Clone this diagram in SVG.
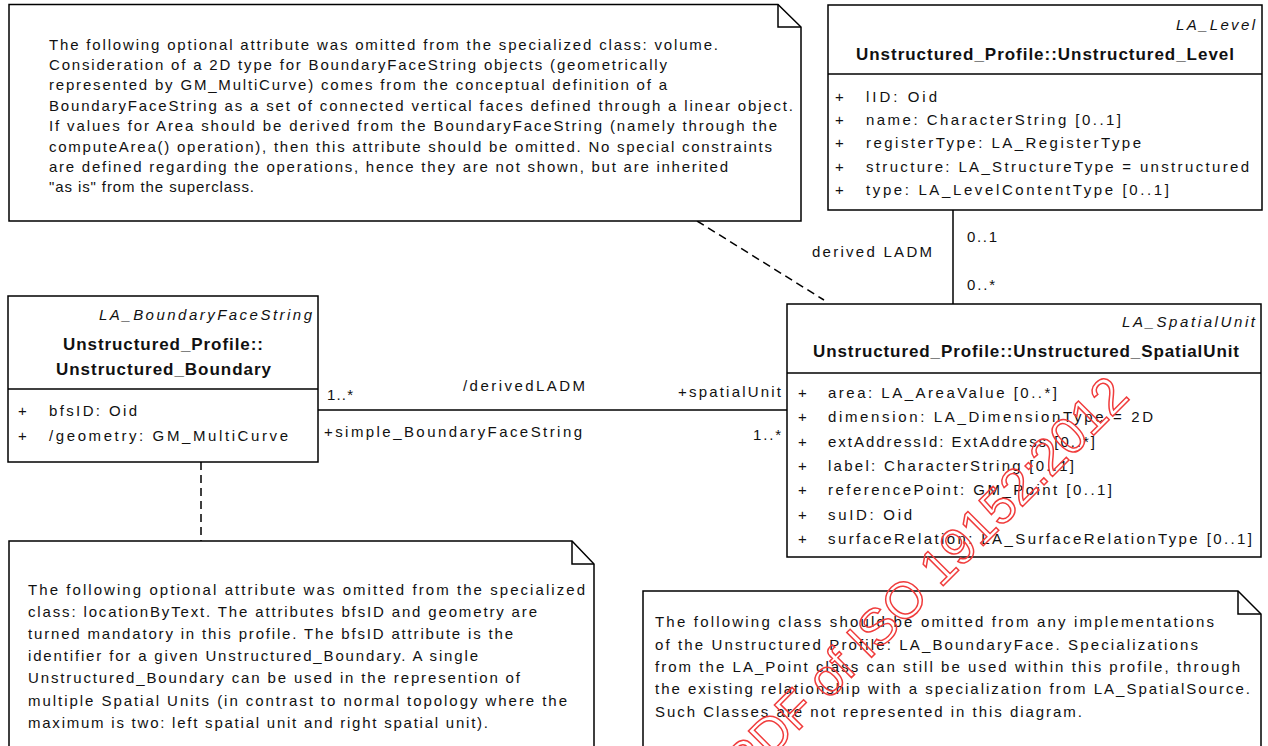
<svg xmlns="http://www.w3.org/2000/svg" width="1268" height="746" viewBox="0 0 1268 746">
<style>
.t{font-family:"Liberation Sans",Arial,sans-serif;font-size:15px;fill:#111}
.b{font-weight:bold;font-size:17px}
.i{font-style:italic}
.e{text-anchor:end}
.m{text-anchor:middle}
.box{fill:#fff;stroke:#000;stroke-width:1.5}
.ln{stroke:#000;stroke-width:1.5;fill:none}
.dash{stroke:#000;stroke-width:1.5;fill:none;stroke-dasharray:8 5}
.wm{font-family:"Liberation Sans",Arial,sans-serif;font-size:51px;fill:none;stroke:#f03c3c;stroke-width:1.5}
</style>
<rect x="0" y="0" width="1268" height="746" fill="#fff"/>

<g id="connectors">
<line class="ln" x1="318" y1="410" x2="787" y2="410"/>
<line class="ln" x1="953" y1="210" x2="953" y2="304"/>
<line class="dash" x1="697" y1="221" x2="824" y2="300"/>
<line class="dash" x1="201" y1="462" x2="201" y2="541"/>
<text class="t" x="327" y="400" textLength="26" lengthAdjust="spacing">1..*</text>
<text class="t" x="463" y="391" textLength="122" lengthAdjust="spacing">/derivedLADM</text>
<text class="t" x="678" y="397" textLength="103" lengthAdjust="spacing">+spatialUnit</text>
<text class="t" x="324" y="437" textLength="258" lengthAdjust="spacing">+simple_BoundaryFaceString</text>
<text class="t" x="753" y="440" textLength="28" lengthAdjust="spacing">1..*</text>
<text class="t" x="967" y="242" textLength="30" lengthAdjust="spacing">0..1</text>
<text class="t" x="967" y="290" textLength="28" lengthAdjust="spacing">0..*</text>
<text class="t" x="812" y="257" textLength="120" lengthAdjust="spacing">derived LADM</text>
</g>

<g id="note1">
<path class="box" d="M9,4.5 H778 L801,27 V221 H9 Z"/>
<path class="ln" d="M778,4.5 V27 H801"/>
<text class="t" x="49" y="49.5" textLength="669" lengthAdjust="spacing">The following optional attribute was omitted from the specialized class: volume.</text>
<text class="t" x="49" y="69.9" textLength="618" lengthAdjust="spacing">Consideration of a 2D type for BoundaryFaceString objects (geometrically</text>
<text class="t" x="49" y="90.3" textLength="618" lengthAdjust="spacing">represented by GM_MultiCurve) comes from the conceptual definition of a</text>
<text class="t" x="49" y="110.7" textLength="744" lengthAdjust="spacing">BoundaryFaceString as a set of connected vertical faces defined through a linear object.</text>
<text class="t" x="49" y="131.1" textLength="728" lengthAdjust="spacing">If values for Area should be derived from the BoundaryFaceString (namely through the</text>
<text class="t" x="49" y="151.5" textLength="723" lengthAdjust="spacing">computeArea() operation), then this attribute should be omitted. No special constraints</text>
<text class="t" x="49" y="171.9" textLength="679" lengthAdjust="spacing">are defined regarding the operations,  hence they are not shown, but are inherited</text>
<text class="t" x="49" y="192.3" textLength="205" lengthAdjust="spacing">"as is" from the superclass.</text>
</g>

<g id="level">
<rect class="box" x="828" y="5" width="434" height="205"/>
<line class="ln" x1="828" y1="74" x2="1262" y2="74"/>
<text class="t i" x="1176" y="30" textLength="79" lengthAdjust="spacing">LA_Level</text>
<text class="t b m" x="1045" y="60" textLength="378" lengthAdjust="spacing">Unstructured_Profile::Unstructured_Level</text>
<text class="t" x="835" y="102">+</text>
<text class="t" x="866" y="102" textLength="71" lengthAdjust="spacing">lID: Oid</text>
<text class="t" x="835" y="125">+</text>
<text class="t" x="866" y="125" textLength="255" lengthAdjust="spacing">name: CharacterString [0..1]</text>
<text class="t" x="835" y="148">+</text>
<text class="t" x="866" y="148" textLength="275" lengthAdjust="spacing">registerType: LA_RegisterType</text>
<text class="t" x="835" y="172">+</text>
<text class="t" x="866" y="172" textLength="383" lengthAdjust="spacing">structure: LA_StructureType = unstructured</text>
<text class="t" x="835" y="195">+</text>
<text class="t" x="866" y="195" textLength="303" lengthAdjust="spacing">type: LA_LevelContentType [0..1]</text>
</g>

<g id="boundary">
<rect class="box" x="8" y="296" width="310" height="166"/>
<line class="ln" x1="8" y1="389" x2="318" y2="389"/>
<text class="t i" x="99" y="320" textLength="213" lengthAdjust="spacing">LA_BoundaryFaceString</text>
<text class="t b m" x="163" y="350" textLength="200" lengthAdjust="spacing">Unstructured_Profile::</text>
<text class="t b m" x="163.5" y="375" textLength="215" lengthAdjust="spacing">Unstructured_Boundary</text>
<text class="t" x="18" y="416">+</text>
<text class="t" x="49" y="416" textLength="88" lengthAdjust="spacing">bfsID: Oid</text>
<text class="t" x="18" y="441">+</text>
<text class="t" x="49" y="441" textLength="239" lengthAdjust="spacing">/geometry: GM_MultiCurve</text>
</g>

<g id="spatialunit">
<rect class="box" x="787" y="304" width="474" height="253"/>
<line class="ln" x1="787" y1="373" x2="1261" y2="373"/>
<text class="t i" x="1122" y="327" textLength="133" lengthAdjust="spacing">LA_SpatialUnit</text>
<text class="t b m" x="1026" y="357" textLength="426" lengthAdjust="spacing">Unstructured_Profile::Unstructured_SpatialUnit</text>
<text class="t" x="798" y="398">+</text>
<text class="t" x="828" y="398" textLength="229" lengthAdjust="spacing">area: LA_AreaValue [0..*]</text>
<text class="t" x="798" y="422.3">+</text>
<text class="t" x="828" y="422.3" textLength="325" lengthAdjust="spacing">dimension: LA_DimensionType = 2D</text>
<text class="t" x="798" y="446.6">+</text>
<text class="t" x="828" y="446.6" textLength="267" lengthAdjust="spacing">extAddressId: ExtAddress [0..*]</text>
<text class="t" x="798" y="470.9">+</text>
<text class="t" x="828" y="470.9" textLength="246" lengthAdjust="spacing">label: CharacterString [0..1]</text>
<text class="t" x="798" y="495.2">+</text>
<text class="t" x="828" y="495.2" textLength="284" lengthAdjust="spacing">referencePoint: GM_Point [0..1]</text>
<text class="t" x="798" y="519.5">+</text>
<text class="t" x="828" y="519.5" textLength="84" lengthAdjust="spacing">suID: Oid</text>
<text class="t" x="798" y="543.8">+</text>
<text class="t" x="828" y="543.8" textLength="424" lengthAdjust="spacing">surfaceRelation: LA_SurfaceRelationType [0..1]</text>
</g>

<g id="note2">
<path class="box" d="M9,541 H572 L594,564 V750 H9 Z"/>
<path class="ln" d="M572,541 V564 H594"/>
<text class="t" x="28" y="595" textLength="557" lengthAdjust="spacing">The following optional attribute was omitted from the specialized</text>
<text class="t" x="28" y="617" textLength="509" lengthAdjust="spacing">class: locationByText. The attributes bfsID and geometry are</text>
<text class="t" x="28" y="639" textLength="485" lengthAdjust="spacing">turned mandatory in this profile. The bfsID attribute is the</text>
<text class="t" x="28" y="661" textLength="450" lengthAdjust="spacing">identifier for a given Unstructured_Boundary.  A single</text>
<text class="t" x="28" y="683" textLength="492" lengthAdjust="spacing">Unstructured_Boundary can be used in the represention of</text>
<text class="t" x="28" y="705.5" textLength="539" lengthAdjust="spacing">multiple Spatial Units (in contrast to normal topology where the</text>
<text class="t" x="28" y="727.5" textLength="460" lengthAdjust="spacing">maximum is two: left spatial unit and right spatial unit).</text>
</g>

<g id="note3">
<path class="box" d="M643,591 H1238 L1261,614 V750 H643 Z"/>
<path class="ln" d="M1238,591 V614 H1261"/>
<text class="t" x="655" y="627" textLength="559" lengthAdjust="spacing">The following class should be omitted from any implementations</text>
<text class="t" x="655" y="649.5" textLength="543" lengthAdjust="spacing">of the Unstructured Profile: LA_BoundaryFace. Specializations</text>
<text class="t" x="655" y="672" textLength="585" lengthAdjust="spacing">from the LA_Point class can still be used within this profile, through</text>
<text class="t" x="655" y="694" textLength="595" lengthAdjust="spacing">the existing relationship with a specialization from LA_SpatialSource.</text>
<text class="t" x="655" y="717" textLength="427" lengthAdjust="spacing">Such Classes are not represented in this diagram.</text>
</g>

<g id="watermark">
<text class="wm" text-anchor="end" transform="translate(1131,398) rotate(-45)">PDF of ISO 19152:2012</text>
</g>
</svg>
